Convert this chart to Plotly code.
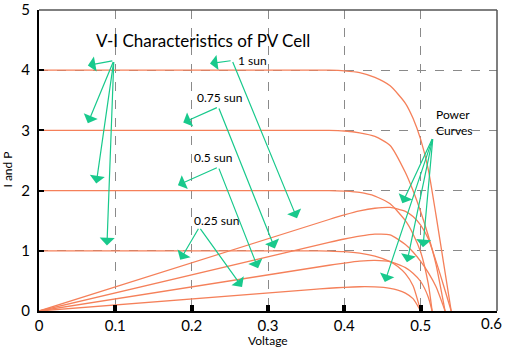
import plotly.graph_objects as go

# ---- data ----
v_1sun = [0, 0.38, 0.40, 0.42, 0.44, 0.46, 0.48, 0.49, 0.50, 0.51, 0.52, 0.53, 0.54]
i_1sun = [4.0, 4.0, 3.99, 3.96, 3.88, 3.74, 3.45, 3.2, 2.85, 2.35, 1.6, 0.8, 0.0]
p_1sun = [0.0, 1.52, 1.596, 1.663, 1.707, 1.72, 1.656, 1.568, 1.425, 1.199, 0.832, 0.424, 0.0]

v_075sun = [0, 0.38, 0.40, 0.42, 0.44, 0.46, 0.48, 0.49, 0.50, 0.51, 0.52, 0.532]
i_075sun = [3.0, 3.0, 2.99, 2.96, 2.9, 2.75, 2.3, 2.0, 1.65, 1.25, 0.78, 0.0]
p_075sun = [0.0, 1.14, 1.196, 1.243, 1.276, 1.265, 1.104, 0.98, 0.825, 0.638, 0.406, 0.0]

v_05sun = [0, 0.38, 0.40, 0.42, 0.44, 0.46, 0.48, 0.49, 0.50, 0.51, 0.515]
i_05sun = [2.0, 2.0, 1.99, 1.97, 1.91, 1.78, 1.5, 1.28, 0.98, 0.45, 0.0]
p_05sun = [0.0, 0.76, 0.796, 0.827, 0.84, 0.819, 0.72, 0.627, 0.49, 0.23, 0.0]

v_025sun = [0, 0.36, 0.38, 0.40, 0.42, 0.44, 0.46, 0.47, 0.48, 0.49, 0.50]
i_025sun = [1.0, 1.0, 0.995, 0.985, 0.96, 0.91, 0.82, 0.74, 0.62, 0.42, 0.0]
p_025sun = [0.0, 0.36, 0.378, 0.394, 0.403, 0.40, 0.377, 0.348, 0.298, 0.206, 0.0]

x_ticks = [0, 0.1, 0.2, 0.3, 0.4, 0.5, 0.6]
x_ticktext = ["0", "0.1", "0.2", "0.3", "0.4", "0.5", ""]
last_x_label = "0.6"
y_ticks = [0, 1, 2, 3, 4, 5]

title_text = "V-I Characteristics of PV Cell"
sun_labels = ["1 sun", "0.75 sun", "0.5 sun", "0.25 sun"]

# arrow groups: (source, [tips])
arrows_vi = ((0.098, 4.16), [(0.064, 4.08), (0.064, 3.12), (0.075, 2.12), (0.089, 1.09)])
arrows_1 = ((0.253, 4.16), [(0.224, 4.11), (0.338, 1.54)])
arrows_075 = ((0.235, 3.39), [(0.189, 3.13), (0.309, 1.04)])
arrows_05 = ((0.235, 2.39), [(0.182, 2.09), (0.287, 0.71)])
arrows_025 = ((0.21, 1.39), [(0.185, 0.85), (0.266, 0.40)])
arrows_pow = ((0.516, 2.88), [(0.476, 1.79), (0.503, 1.06), (0.482, 0.81), (0.453, 0.48)])

ORANGE = "#F5805A"
GREEN = "#18C98C"
FONT = "Lato"

fig = go.Figure()
for v, i, p in [(v_1sun, i_1sun, p_1sun), (v_075sun, i_075sun, p_075sun),
                (v_05sun, i_05sun, p_05sun), (v_025sun, i_025sun, p_025sun)]:
    fig.add_trace(go.Scatter(x=v, y=i, mode="lines",
                             line=dict(color=ORANGE, width=1.3, shape="spline", smoothing=0.6),
                             showlegend=False, hoverinfo="skip"))
    fig.add_trace(go.Scatter(x=v, y=p, mode="lines",
                             line=dict(color=ORANGE, width=1.3, shape="spline", smoothing=0.6),
                             showlegend=False, hoverinfo="skip"))

annotations = []
for (src, tips) in [arrows_vi, arrows_1, arrows_075, arrows_05, arrows_025, arrows_pow]:
    for (tx, ty) in tips:
        annotations.append(dict(x=tx, y=ty, ax=src[0], ay=src[1], xref="x", yref="y",
                                axref="x", ayref="y", text="", showarrow=True,
                                arrowhead=1, arrowsize=2.1, arrowwidth=1.2,
                                arrowcolor=GREEN, standoff=0, startstandoff=0))

annotations.append(dict(x=0.215, y=4.5, text=title_text, showarrow=False,
                        font=dict(family=FONT, size=17, color="black")))
label_pos = [(0.258, 4.16), (0.205, 3.55), (0.2, 2.55), (0.2, 1.51)]
for (lx, ly), t in zip(label_pos, sun_labels):
    annotations.append(dict(x=lx, y=ly, text=t, showarrow=False, xanchor="left",
                            font=dict(family=FONT, size=12, color="black")))
annotations.append(dict(x=0.518, y=3.13, text="Power<br>Curves", showarrow=False,
                        xanchor="left", align="left",
                        font=dict(family=FONT, size=12, color="black")))
# last x tick label, kept inside the page
annotations.append(dict(x=0.6, y=0, xref="x", yref="paper", text=last_x_label,
                        showarrow=False, xanchor="right", yanchor="middle",
                        xshift=7, yshift=-12,
                        font=dict(family=FONT, size=15, color="black")))
# axis titles
annotations.append(dict(x=0.5, y=0, xref="paper", yref="paper", yshift=-29,
                        text="Voltage", showarrow=False, yanchor="middle",
                        font=dict(family=FONT, size=12, color="black")))
annotations.append(dict(x=0, y=0.47, xref="paper", yref="paper", xshift=-31,
                        text="I and P", showarrow=False, textangle=-90, xanchor="center",
                        font=dict(family=FONT, size=12, color="black")))

fig.update_layout(
    width=505, height=349,
    margin=dict(l=39, r=8, t=10, b=38, autoexpand=False),
    paper_bgcolor="white", plot_bgcolor="white",
    annotations=annotations,
    xaxis=dict(range=[0, 0.6], tickvals=x_ticks, ticktext=x_ticktext,
               ticks="inside", ticklen=6, tickwidth=3.5, tickcolor="black",
               showline=True, linecolor="black", linewidth=2,
               showgrid=True, gridcolor="#8a8a8a", griddash="dash", gridwidth=1,
               zeroline=False, automargin=False, ticklabeloverflow="allow",
               tickfont=dict(family=FONT, size=15, color="black")),
    yaxis=dict(range=[0, 5], tickvals=y_ticks,
               ticks="inside", ticklen=5, tickwidth=2, tickcolor="black",
               showline=True, linecolor="black", linewidth=2,
               showgrid=True, gridcolor="#8a8a8a", griddash="dash", gridwidth=1,
               zeroline=False, automargin=False, ticklabelstandoff=4,
               ticklabeloverflow="allow",
               tickfont=dict(family=FONT, size=15, color="black")),
    shapes=[
        dict(type="line", xref="paper", yref="paper", x0=0, x1=1, y0=1, y1=1,
             line=dict(color="#555555", width=1.5)),
        dict(type="line", xref="paper", yref="paper", x0=1, x1=1, y0=0, y1=1,
             line=dict(color="#555555", width=1.5)),
    ],
)

fig.write_html("out.html", config={"displayModeBar": False},
               post_script="document.body.style.margin='0';document.body.style.padding='0';document.body.style.overflow='hidden';")
